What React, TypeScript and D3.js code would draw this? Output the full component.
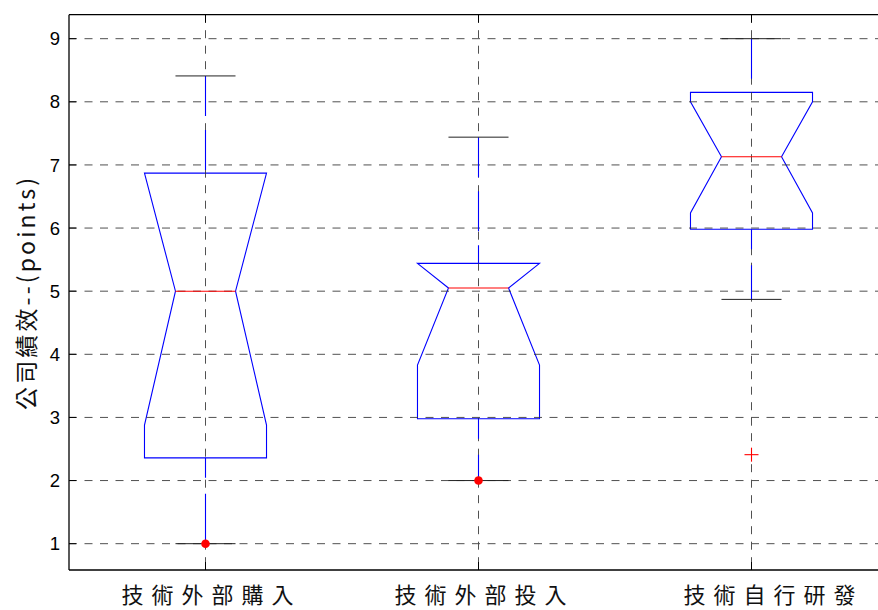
import React from "react";
import * as d3 from "d3";

// Notched box plot of company performance by technology-sourcing strategy
const categories = ["技術外部購入", "技術外部投入", "技術自行研發"];
const q1 = [2.36, 2.98, 5.98];
const q3 = [6.87, 5.44, 8.15];
const medians = [5.0, 5.05, 7.13];
const notchLow = [2.88, 3.83, 6.24];
const notchHigh = [6.87, 5.44, 8.0];
const whiskerLow = [1.0, 2.0, 4.87];
const whiskerHigh = [8.41, 7.44, 9.0];
const outliers = [{ group: 3, value: 2.41 }];
const dots = [
  { group: 1, value: 1.0 },
  { group: 2, value: 2.0 },
];
const yTicks = [1, 2, 3, 4, 5, 6, 7, 8, 9];
const yLabel = "公司績效--(points)";

const W = 878;
const H = 610;
const left = 69;
const top = 14.7;
const bottom = 570;
const right = 888;

export default function App() {
  const x = d3.scaleLinear().domain([0.5, 3.5]).range([left, right]);
  const y = d3.scaleLinear().domain([0.583, 9.38]).range([bottom, top]);

  const boxHalf = 0.2235 * (x(2) - x(1));
  const notchHalf = 0.11 * (x(2) - x(1));
  const capHalf = 0.11 * (x(2) - x(1));

  const gridColor = "#333";
  const labelShift = [2, 2, 18];

  const boxPath = (i: number) => {
    const c = x(i + 1);
    const L = c - boxHalf;
    const R = c + boxHalf;
    const Ln = c - notchHalf;
    const Rn = c + notchHalf;
    const pts: [number, number][] = [
      [L, y(q3[i])],
      [L, y(notchHigh[i])],
      [Ln, y(medians[i])],
      [L, y(notchLow[i])],
      [L, y(q1[i])],
      [R, y(q1[i])],
      [R, y(notchLow[i])],
      [Rn, y(medians[i])],
      [R, y(notchHigh[i])],
      [R, y(q3[i])],
    ];
    return d3.line()(pts)! + "Z";
  };

  return (
    <svg
      width={W}
      height={H}
      style={{ position: "absolute", left: 0, top: 0, background: "#fff" }}
      fontFamily="'Liberation Sans', Arial, sans-serif"
    >
      {/* boxes */}
      {categories.map((_, i) => (
        <path key={"b" + i} d={boxPath(i)} fill="none" stroke="#0000ff" strokeWidth={1.1} />
      ))}

      {/* grid */}
      <g stroke={gridColor} strokeWidth={1} strokeDasharray="8,7.5" opacity={0.85}>
        {yTicks.map((t) => (
          <line key={"gy" + t} x1={left} x2={right} y1={y(t)} y2={y(t)} />
        ))}
        {categories.map((_, i) => (
          <line key={"gx" + i} x1={x(i + 1)} x2={x(i + 1)} y1={top} y2={bottom} />
        ))}
      </g>

      {/* medians */}
      {categories.map((_, i) => (
        <line
          key={"m" + i}
          x1={x(i + 1) - notchHalf}
          x2={x(i + 1) + notchHalf}
          y1={y(medians[i])}
          y2={y(medians[i])}
          stroke="#ff0000"
          strokeWidth={1.1}
        />
      ))}

      {/* whiskers */}
      {categories.map((_, i) => (
        <g key={"w" + i}>
          <line
            x1={x(i + 1)}
            x2={x(i + 1)}
            y1={y(whiskerHigh[i])}
            y2={y(q3[i])}
            stroke="#0000ff"
            strokeWidth={1.1}
            strokeDasharray="40,14"
          />
          <line
            x1={x(i + 1)}
            x2={x(i + 1)}
            y1={y(q1[i])}
            y2={y(whiskerLow[i])}
            stroke="#0000ff"
            strokeWidth={1.1}
            strokeDasharray="20,16,50"
          />
          <line
            x1={x(i + 1) - capHalf}
            x2={x(i + 1) + capHalf}
            y1={y(whiskerHigh[i])}
            y2={y(whiskerHigh[i])}
            stroke="#222"
            strokeWidth={1}
          />
          <line
            x1={x(i + 1) - capHalf}
            x2={x(i + 1) + capHalf}
            y1={y(whiskerLow[i])}
            y2={y(whiskerLow[i])}
            stroke="#222"
            strokeWidth={1}
          />
        </g>
      ))}

      {/* outliers */}
      {outliers.map((o, k) => (
        <g key={"o" + k} stroke="#ff0000" strokeWidth={1.1}>
          <line x1={x(o.group) - 7} x2={x(o.group) + 7} y1={y(o.value)} y2={y(o.value)} />
          <line x1={x(o.group)} x2={x(o.group)} y1={y(o.value) - 7} y2={y(o.value) + 7} />
        </g>
      ))}
      {dots.map((p, k) => (
        <circle key={"d" + k} cx={x(p.group)} cy={y(p.value)} r={4.3} fill="#ff0000" />
      ))}

      {/* frame and ticks */}
      <g stroke="#000" strokeWidth={1.3} fill="none">
        <line x1={left} x2={right} y1={top} y2={top} />
        <line x1={left} x2={right} y1={bottom} y2={bottom} />
        <line x1={left} x2={left} y1={top} y2={bottom} />
      </g>
      <g stroke="#000" strokeWidth={1}>
        {yTicks.map((t) => (
          <line key={"ty" + t} x1={left} x2={left + 7} y1={y(t)} y2={y(t)} />
        ))}
        {categories.map((_, i) => (
          <g key={"tx" + i}>
            <line x1={x(i + 1)} x2={x(i + 1)} y1={bottom} y2={bottom - 8} />
            <line x1={x(i + 1)} x2={x(i + 1)} y1={top} y2={top + 8} />
          </g>
        ))}
      </g>

      {/* y tick labels */}
      {yTicks.map((t) => (
        <text
          key={"ly" + t}
          x={60}
          y={y(t)}
          dy="0.36em"
          textAnchor="end"
          fontSize={18.5}
          fill="#000"
        >
          {t}
        </text>
      ))}

      {/* category labels */}
      {categories.map((c, i) => (
        <text
          key={"lx" + i}
          x={x(i + 1) + labelShift[i]}
          y={603}
          textAnchor="middle"
          fontSize={22}
          fontFamily="'Noto Sans CJK TC', sans-serif"
          fill="#111"
          textLength={172}
          lengthAdjust="spacing"
        >
          {c}
        </text>
      ))}

      {/* y axis title */}
      <text
        transform={`translate(25,294) rotate(-90)`}
        textAnchor="middle"
        dominantBaseline="central"
        fontSize={23}
        fontFamily="'Noto Sans CJK TC', 'DejaVu Serif', serif"
        fill="#111"
        textLength={232}
        lengthAdjust="spacing"
      >
        {yLabel}
      </text>
    </svg>
  );
}
